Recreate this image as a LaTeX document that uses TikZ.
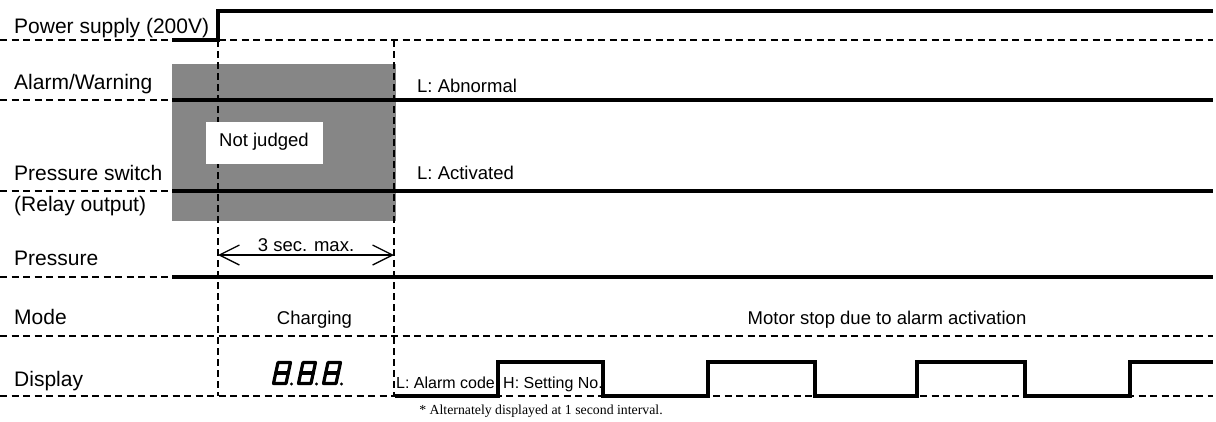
\documentclass[tikz,border=0pt]{standalone}
\usepackage{fontspec}
\setmainfont{Liberation Sans}
\newfontfamily\notefont{Liberation Serif}
\usetikzlibrary{arrows.meta}
\begin{document}
\begin{tikzpicture}[x=1pt,y=-1pt,
  lab/.style={anchor=base west,inner sep=0pt,font=\fontsize{21}{25}\selectfont},
  mid/.style={anchor=base,inner sep=0pt,font=\fontsize{18.5}{22}\selectfont},
  midw/.style={anchor=base west,inner sep=0pt,font=\fontsize{18.5}{22}\selectfont},
  tiny/.style={anchor=base west,inner sep=0pt,font=\fontsize{16}{19}\selectfont},
  sig/.style={line width=4.2pt},
  dsig/.style={line width=3.6pt,line join=miter},
  guide/.style={line width=1.4pt,dash pattern=on 7pt off 4.5pt},
  vguide/.style={line width=1.9pt,dash pattern=on 7pt off 4pt},
  seg/.style={line width=3.2pt,line join=round,line cap=round},
  judgebox/.style={fill=white,draw=none,minimum width=117pt,minimum height=42pt,inner sep=0pt}]
\useasboundingbox (0,0) rectangle (1216,421);
\fill[white] (0,0) rectangle (1216,421);
% grey "not judged" area
\fill[gray!95] (172,64) rectangle (396,221);
% horizontal guides
\draw[guide] (0,40) -- (1213,40);
\draw[guide] (0,100) -- (172,100);
\draw[guide] (0,191) -- (172,191);
\draw[guide] (0,277) -- (172,277);
\draw[guide] (0,336) -- (1213,336);
\draw[guide] (0,396) -- (1213,396);
% vertical guides
\coordinate (t0top) at (218,40);
\coordinate (t0bot) at (218,396);
\coordinate (t1top) at (394,40);
\coordinate (t1bot) at (394,396);
\draw[vguide] (t0top) -- (t0bot);
\draw[vguide] (t1top) -- (t1bot);
% signals
\draw[sig] (172,40) -- (218,40) -- (218,11) -- (1213,11);
\draw[sig] (172,100) -- (1213,100);
\draw[sig] (172,191) -- (1213,191);
\draw[sig] (172,277) -- (1213,277);
\draw[dsig] (395,396) -- (498,396) -- (498,362) -- (603,362) -- (603,396) -- (708,396) -- (708,362) -- (815,362) -- (815,396) -- (917,396) -- (917,362) -- (1025,362) -- (1025,396) -- (1130,396) -- (1130,362) -- (1213,362);
% Not judged box
\node[judgebox] (nj) at (264.5,143) {};
\node[midw] (njt) at (219,146) {Not judged};
% labels
\node[lab] (l1) at (14,33) {Power supply (200V)};
\node[lab] (l2) at (14,89) {Alarm/Warning};
\node[lab] (l3) at (14,180) {Pressure switch};
\node[lab] (l4) at (14,211) {(Relay output)};
\node[lab] (l5) at (14,265) {Pressure};
\node[lab] (l6) at (14,324) {Mode};
\node[lab] (l7) at (14,386) {Display};
% state texts
\node[midw] (ab) at (417,92) {L: Abnormal};
\node[midw] (ac) at (417,179) {L: Activated};
\node[mid] (ch) at (314.5,324) {Charging};
\node[mid] (ms) at (887,324) {Motor stop due to alarm activation};
\node[tiny] (ltxt) at (396,388) {L: Alarm code};
\node[tiny] (htxt) at (503,388) {H: Setting No.};
\node[anchor=base,inner sep=0pt,font=\notefont\fontsize{13.8}{16}\selectfont] (note) at (541,414) {* Alternately displayed at 1 second interval.};
% 3 sec arrow
\coordinate (a0) at (218,255);
\coordinate (a1) at (394,255);
\draw[line width=1.3pt,{Straight Barb[length=20pt,width=20pt,line width=1.3pt]}-{Straight Barb[length=20pt,width=20pt,line width=1.3pt]}] (a0) -- (a1);
\node[mid] (ar) at (306,251) {3 sec. max.};
% 7-segment 8.8.8.
\foreach \x in {272,297,322}{
  \draw[seg] (\x+1.5,383.5) -- (\x+14,383.5) -- (\x+18.5,362.5) -- (\x+6,362.5) -- cycle;
  \draw[seg] (\x+4,373) -- (\x+16.3,373);
  \fill (\x+19.5,384) circle (1.7);
}
\end{tikzpicture}
\end{document}
